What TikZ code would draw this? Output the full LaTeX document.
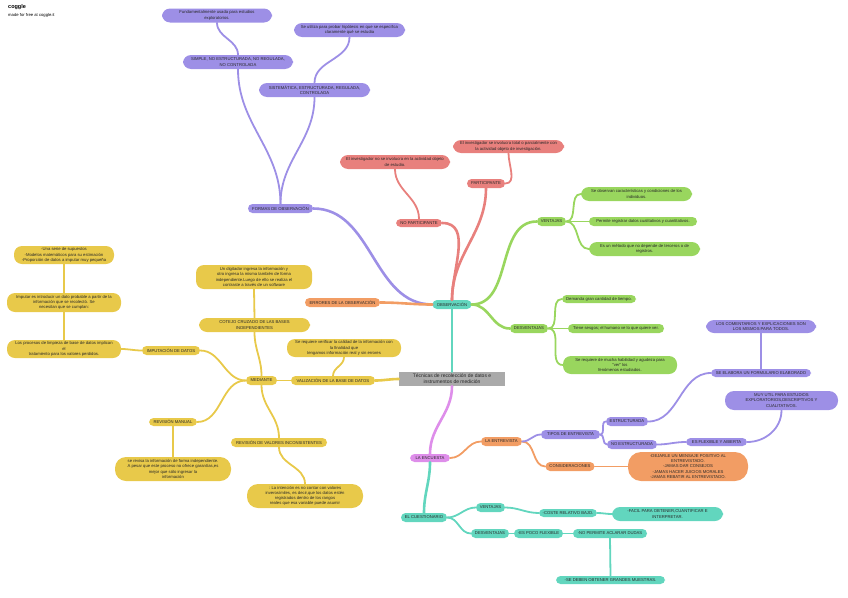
\documentclass[tikz,border=0pt]{standalone}
\usepackage{fontspec}
\setmainfont{Liberation Sans}
\usepackage{tikz}
\definecolor{txt}{RGB}{40, 40, 40}
\definecolor{purp}{RGB}{157, 143, 230}
\definecolor{redd}{RGB}{232, 128, 125}
\definecolor{grn}{RGB}{153, 214, 94}
\definecolor{teal}{RGB}{98, 214, 190}
\definecolor{orng}{RGB}{242, 157, 100}
\definecolor{yell}{RGB}{232, 201, 74}
\definecolor{pink}{RGB}{222, 142, 234}
\definecolor{gray}{RGB}{170, 170, 170}

\begin{document}
\begin{tikzpicture}[
   x=1pt, y=-1pt,
   box/.style={rounded corners=4.5, inner sep=0, align=center, text=txt,
               font=\fontsize{4.2}{5.2}\selectfont},
   wh/.style 2 args={minimum width=#1, minimum height=#2},
   purpbox/.style={box, fill=purp},
   redbox/.style={box, fill=redd},
   grnbox/.style={box, fill=grn},
   tealbox/.style={box, fill=teal},
   orngbox/.style={box, fill=orng},
   yellbox/.style={box, fill=yell},
   pinkbox/.style={box, fill=pink},
   big/.style={rounded corners=8},
   conn/.style={line width=1.8, line cap=round},
   mainconn/.style={line width=2.6, line cap=round}
  ]

  \useasboundingbox (0, 0) rectangle (848, 597);

  % Header
  \node (logo) at (8, 7) [anchor=west, inner sep=0, font=\bfseries\fontsize{5.5}{6}\selectfont] {coggle};
  \node (made) at (8, 15) [anchor=west, inner sep=0, font=\fontsize{4.2}{5}\selectfont] {made for free at coggle.it};

  % Centre
  \node (C) at (452, 379) [box, rounded corners=0, fill=gray, wh={106}{14},
        font=\fontsize{5}{6}\selectfont] {Técnicas de recolección de datos e\\instrumentos de medición};
  \node (OBS) at (452, 304.5) [tealbox, wh={39}{9}] {OBSERVACIÓN};

  % Formas de observacion
  \node (P1) at (217, 15.5) [purpbox, big, wh={110}{14}] {Fundamentalmente usada para estudios\\exploratorios.};
  \node (P2) at (349.5, 30) [purpbox, big, wh={111}{14}] {Se utiliza para probar hipótesis en que se especifica\\claramente qué se estudia};
  \node (P3) at (238, 62) [purpbox, big, wh={110}{14}] {SIMPLE, NO ESTRUCTURADA, NO REGULADA,\\NO CONTROLADA};
  \node (P4) at (314.5, 90) [purpbox, big, wh={111}{14}] {SISTEMÁTICA, ESTRUCTURADA, REGULADA,\\CONTROLADA};
  \node (P5) at (280.5, 208.5) [purpbox, wh={65}{9}] {FORMAS DE OBSERVACIÓN};

  % Participacion
  \node (R1) at (508.5, 146.5) [redbox, big, wh={111}{13}] {El investigador se involucra total o parcialmente con\\la actividad objeto de investigación.};
  \node (R2) at (395, 162) [redbox, big, wh={110}{14}] {El investigador no se involucra en la actividad objeto\\de estudio.};
  \node (R3) at (486, 183.5) [redbox, wh={38}{9}] {PARTICIPANTE};
  \node (R4) at (419, 223) [redbox, wh={46}{8}] {NO PARTICIPANTE};

  % Ventajas / desventajas
  \node (GV) at (551.5, 221.5) [grnbox, wh={29}{9}] {VENTAJAS};
  \node (G1) at (636.5, 194) [grnbox, big, wh={111}{14}] {Se observan características y condiciones de los\\individuos.};
  \node (G2) at (643, 221.5) [grnbox, wh={108}{9}] {Permite registrar datos cualitativos y cuantitativos.};
  \node (G3) at (644.5, 249) [grnbox, big, wh={111}{14}] {Es un método que no depende de terceros o de\\registros.};
  \node (GD) at (529, 328.5) [grnbox, wh={38}{9}] {DESVENTAJAS};
  \node (G4) at (599, 299) [grnbox, wh={74}{8}] {Demanda gran cantidad de tiempo.};
  \node (G5) at (616, 328.5) [grnbox, wh={96}{9}] {Tiene sesgos; el humano ve lo que quiere ver.};
  \node (G6) at (620, 365) [grnbox, big, wh={114}{18}] {Se requiere de mucha habilidad y agudeza para\\"ver" los\\fenómenos estudiados.};

  \node (E) at (342.5, 302.5) [orngbox, wh={75}{9}] {ERRORES DE LA OBSERVACIÓN};

  % Validacion de la base de datos
  \node (YV) at (333, 380.5) [yellbox, wh={84}{9}] {VALIZACIÓN DE LA BASE DE DATOS};
  \node (YV2) at (344, 348) [yellbox, big, wh={114}{18}] {Se requiere verificar la calidad de la información con\\la finalidad que\\tengamos información real y sin errores};
  \node (YM) at (261.5, 380.5) [yellbox, wh={31}{9}] {MEDIANTE};
  \node (YC) at (254.5, 325) [yellbox, big, wh={111}{14}] {COTEJO CRUZADO DE LAS BASES\\INDEPENDIENTES};
  \node (YC2) at (254, 277) [yellbox, big, wh={116}{24}] {Un digitador ingresa la información y\\otro ingresa la misma también de forma\\independiente.Luego de ello se realiza el\\contraste a través de un software};
  \node (YI) at (171, 350.5) [yellbox, wh={58}{9}] {IMPUTACIÓN DE DATOS};
  \node (YI1) at (64, 349) [yellbox, big, wh={114}{18}] {Los procesos de limpieza de base de datos implican\\el\\tratamiento para los valores perdidos.};
  \node (YI2) at (64, 302.5) [yellbox, big, wh={114}{19}] {Imputar es introducir un dato probable a partir de la\\información que se recolectó. Se\\necesitan que se cumplan:};
  \node (YI3) at (64, 255) [yellbox, big, wh={100}{18}] {-Una serie de supuestos\\-Modelos matemáticos para su estimación\\-Proporción de datos a imputar muy pequeña};
  \node (YR) at (173, 422) [yellbox, wh={48}{8}] {REVISIÓN MANUAL};
  \node (YR2) at (173, 469) [yellbox, big, rounded corners=11, wh={116}{24}] {se revisa la información de forma independiente.\\A pesar que este proceso no ofrece garantías,es\\mejor que sólo ingresar la\\información};
  \node (YRV) at (279, 442.5) [yellbox, wh={96}{9}] {REVISIÓN DE VALORES INCONSISTENTES};
  \node (YRV2) at (305, 496) [yellbox, big, rounded corners=11, wh={116}{24}] {: La intención es no contar con valores\\inverosímiles, es decir,que los datos estén\\registrados dentro de los rangos\\reales que esa variable puede asumir};

  % Encuesta
  \node (ENC) at (430, 458) [pinkbox, wh={40}{8}] {LA ENCUESTA};
  \node (ENT) at (501.5, 441.5) [orngbox, wh={41}{9}] {LA ENTREVISTA};
  \node (CONS) at (570, 466.5) [orngbox, wh={49}{9}] {CONSIDERACIONES};
  \node (CONS2) at (688, 466.5) [orngbox, rounded corners=13, wh={120}{29}] {-DEJARLE UN MENSAJE POSITIVO AL\\ENTREVISTADO.\\-JAMAS DAR CONSEJOS\\-JAMAS HACER JUICIOS MORALES\\-JAMAS REBATIR AL ENTREVISTADO.};
  \node (TIP) at (570.5, 434.5) [purpbox, wh={59}{9}] {TIPOS DE ENTREVISTA};
  \node (EST) at (627, 421.5) [purpbox, wh={42}{9}] {ESTRUCTURADA};
  \node (NOE) at (632, 444.5) [purpbox, wh={50}{9}] {NO ESTRUCTURADA};
  \node (SEL) at (761, 373) [purpbox, wh={100}{8}] {SE ELABORA UN FORMULARIO ELABORADO};
  \node (COM) at (761, 326.5) [purpbox, big, wh={110}{13}] {LOS COMENTARIOS Y EXPLICACIONES SON\\LOS MISMOS PARA TODOS.};
  \node (FLX) at (716.5, 442) [purpbox, wh={61}{8}] {ES FLEXIBLE Y ABIERTA};
  \node (UTIL) at (781.5, 400.5) [purpbox, big, rounded corners=9, wh={113}{19}] {MUY UTIL PARA ESTUDIOS\\EXPLORATORIOS,DESCRIPTIVOS Y\\CUALITATIVOS.};

  % Cuestionario
  \node (CU) at (424, 517.5) [tealbox, wh={46}{9}] {EL CUESTIONARIO};
  \node (QV) at (490.5, 507.5) [tealbox, wh={29}{9}] {VENTAJAS};
  \node (QD) at (490, 533.5) [tealbox, wh={38}{9}] {DESVENTAJAS};
  \node (COS) at (568, 513) [tealbox, wh={58}{8}] {-COSTE RELATIVO BAJO.};
  \node (FAC) at (667.5, 514) [tealbox, big, wh={111}{14}] {-FACIL PARA OBTENER,CUANTIFICAR E\\INTERPRETAR.};
  \node (POC) at (538.5, 533.5) [tealbox, wh={49}{9}] {-ES POCO FLEXIBLE};
  \node (NOP) at (610, 533.5) [tealbox, wh={74}{9}] {-NO PERMITE ACLARAR DUDAS};
  \node (GRA) at (610.5, 580) [tealbox, wh={109}{8}] {-SE DEBEN OBTENER GRANDES MUESTRAS.};

  % Connectors
  \draw[mainconn, teal] (OBS.south) -- (C.north);
  \draw[mainconn, pink] (C.south) to[out=-90, in=90] (ENC.north);
  \draw[mainconn, yell] (C.west) to[out=180, in=0] (YV.east);
  \draw[mainconn, teal] (ENC.south) to[out=-90, in=90] (CU.north);

  \draw[mainconn, purp] (P5.east) to[out=0, in=180] (OBS.west);
  \draw[mainconn, orng] (E.east) to[out=0, in=180] (OBS.west);
  \draw[mainconn, redd] (R4.east) to[out=0, in=90] (OBS.north);
  \draw[mainconn, redd] (R3.south) to[out=-90, in=90] (OBS.north);
  \draw[mainconn, grn] (OBS.east) to[out=0, in=180] (GV.west);
  \draw[mainconn, grn] (OBS.east) to[out=0, in=180] (GD.west);

  \foreach \B/\E in {P1/P3, P2/P4, P3/P5, P4/P5} {
    \draw[conn, purp] (\B.south) to[out=-90, in=90] (\E.north);
  }
  \draw[conn, redd] (R4.north) to[out=90, in=-90] (R2.south);
  \draw[conn, redd] (R3.east) to[out=0, in=-90] (R1.south);

  \foreach \B/\E in {GV/G1, GV/G2, GV/G3, GD/G4, GD/G5, GD/G6} {
    \draw[conn, grn] (\B.east) to[out=0, in=180] (\E.west);
  }

  \draw[conn, yell] (YV.west) -- (YM.east);
  \draw[conn, yell] (YV.north) to[out=90, in=-90] (YV2.south);
  \draw[conn, yell] (YM.north) to[out=90, in=-90] (YC.south);
  \draw[conn, yell] (YM.west) to[out=180, in=0] (YI.east);
  \draw[conn, yell] (YM.west) to[out=180, in=0] (YR.east);
  \draw[conn, yell] (YM.south) to[out=-90, in=90] (YRV.north);
  \draw[conn, yell] (YRV.south) to[out=-90, in=90] (YRV2.north);
  \draw[conn, yell] (YI.west) to[out=180, in=0] (YI1.east);
  \foreach \B/\E in {YC2/YC, YI3/YI2, YI2/YI1, YR/YR2} {
    \draw[conn, yell] (\B.south) -- (\E.north);
  }

  \draw[conn, orng] (ENC.east) to[out=0, in=180] (ENT.west);
  \draw[conn, orng] (ENT.east) to[out=0, in=180] (CONS.west);
  \draw[conn, orng] (CONS.east) -- (CONS2.west);
  \draw[conn, purp] (ENT.east) to[out=0, in=180] (TIP.west);
  \draw[conn, purp] (TIP.east) to[out=0, in=180] (EST.west);
  \draw[conn, purp] (TIP.east) to[out=0, in=180] (NOE.west);
  \draw[conn, purp] (EST.east) to[out=0, in=180] (SEL.west);
  \draw[conn, purp] (SEL.north) -- (COM.south);
  \draw[conn, purp] (NOE.east) to[out=0, in=180] (FLX.west);
  \draw[conn, purp] (FLX.east) to[out=0, in=-90] (UTIL.south);

  \foreach \B/\E in {CU/QV, CU/QD, QV/COS, COS/FAC, QD/POC, POC/NOP} {
    \draw[conn, teal] (\B.east) to[out=0, in=180] (\E.west);
  }
  \draw[conn, teal] (NOP.south) -- (GRA.north);

\end{tikzpicture}
\end{document}
